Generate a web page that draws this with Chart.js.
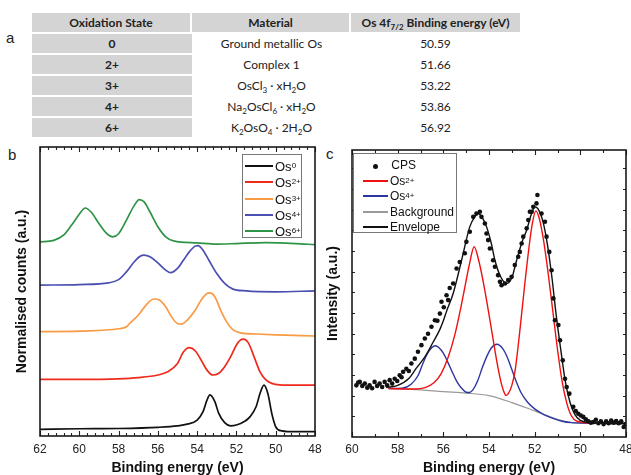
<!DOCTYPE html>
<html><head><meta charset="utf-8">
<script src="https://cdn.jsdelivr.net/npm/chart.js@4.4.1/dist/chart.umd.min.js"></script>
<style>
html,body{margin:0;padding:0;}
body{width:631px;height:475px;background:#fff;position:relative;overflow:hidden;font-family:"Liberation Sans",Arial,sans-serif;}
.lbl{position:absolute;font-size:15px;color:#222;line-height:15px;}
table{position:absolute;left:32px;top:13px;width:488px;border-collapse:separate;border-spacing:0;font-family:Lato,"Open Sans",sans-serif;font-size:12px;color:#222;table-layout:fixed;}
th,td{height:19px;padding:0;text-align:center;line-height:19px;border-bottom:2px solid #fff;}
th{background:#d4d4d4;font-weight:bold;border-right:2px solid #fff;}
th:last-child{border-right:none;}
td.c1{background:#d4d4d4;font-weight:bold;}
sub{font-size:8px;line-height:0;}
sup{font-size:8px;line-height:0;}
canvas{position:absolute;}
.leg{position:absolute;border:1px solid #777;background:#fff;box-sizing:border-box;}
.row{position:absolute;left:0;height:14px;display:flex;align-items:center;font-size:13px;color:#111;white-space:nowrap;}
.ln{display:inline-block;height:2px;margin-right:2px;}
.legc .row{font-size:12px;}
</style>
</head><body>
<div class="lbl" style="left:6px;top:30px;">a</div>
<table>
<colgroup><col style="width:160px"><col style="width:159px"><col style="width:169px"></colgroup>
<tr><th>Oxidation State</th><th>Material</th><th>Os 4f<sub>7/2</sub> Binding energy (eV)</th></tr>
<tr><td class="c1">0</td><td>Ground metallic Os</td><td>50.59</td></tr>
<tr><td class="c1">2+</td><td>Complex 1</td><td>51.66</td></tr>
<tr><td class="c1">3+</td><td>OsCl<sub>3</sub> · xH<sub>2</sub>O</td><td>53.22</td></tr>
<tr><td class="c1">4+</td><td>Na<sub>2</sub>OsCl<sub>6</sub> · xH<sub>2</sub>O</td><td>53.86</td></tr>
<tr><td class="c1">6+</td><td>K<sub>2</sub>OsO<sub>4</sub> · 2H<sub>2</sub>O</td><td>56.92</td></tr>
</table>
<div class="lbl" style="left:8px;top:147px;">b</div>
<div class="lbl" style="left:326px;top:146px;">c</div>
<canvas id="cb" width="325" height="335" style="left:0;top:140px;width:325px;height:335px;"></canvas>
<canvas id="cc" width="311" height="335" style="left:320px;top:140px;width:311px;height:335px;"></canvas>

<div class="leg" style="left:242px;top:154px;width:60px;height:84px;">
 <div class="row" style="top:4px;left:2px;"><span class="ln" style="width:28px;background:#111"></span>Os<sup>0</sup></div>
 <div class="row" style="top:20px;left:2px;"><span class="ln" style="width:28px;background:#ee2a1c"></span>Os<sup>2+</sup></div>
 <div class="row" style="top:37px;left:2px;"><span class="ln" style="width:28px;background:#f99b45"></span>Os<sup>3+</sup></div>
 <div class="row" style="top:53px;left:2px;"><span class="ln" style="width:28px;background:#4a4fb0"></span>Os<sup>4+</sup></div>
 <div class="row" style="top:69px;left:2px;"><span class="ln" style="width:28px;background:#2f9447"></span>Os<sup>6+</sup></div>
</div>
<div class="leg legc" style="left:353px;top:153px;width:104px;height:80px;">
 <div class="row" style="top:4px;left:9px;"><span style="display:inline-block;width:25px;text-align:center;"><span style="display:inline-block;width:5px;height:5px;border-radius:50%;background:#111;"></span></span>&nbsp;CPS</div>
 <div class="row" style="top:20px;left:9px;"><span class="ln" style="width:25px;height:1.5px;background:#f01010"></span>Os<sup>2+</sup></div>
 <div class="row" style="top:35px;left:9px;"><span class="ln" style="width:25px;height:1.5px;background:#2c36a0"></span>Os<sup>4+</sup></div>
 <div class="row" style="top:51px;left:9px;"><span class="ln" style="width:25px;height:1.5px;background:#999"></span>Background</div>
 <div class="row" style="top:66px;left:9px;"><span class="ln" style="width:25px;height:1.5px;background:#111"></span>Envelope</div>
</div>

<script>
// ---------- Panel b data (binding energy in eV, normalised counts with offsets) ----------
const os0E = [62,60,58,56,55,54.5,54,53.7,53.5,53.35,53.1,52.9,52.6,52.3,52.0,51.6,51.3,51.0,50.8,50.6,50.4,50.2,50.0,49.7,49,48];
const os0Y = [0.23,0.25,0.26,0.30,0.35,0.41,0.55,0.84,1.24,1.42,1.19,0.78,0.46,0.35,0.38,0.50,0.67,1.01,1.47,1.76,1.47,0.78,0.32,0.18,0.15,0.15];
const os2E = [62,60,58,57,56,55.5,55.0,54.7,54.4,54.1,53.8,53.5,53.2,52.9,52.6,52.3,52.0,51.8,51.65,51.4,51.1,50.8,50.5,50.2,49.8,49,48];
const os2Y = [1.96,1.96,1.98,2.02,2.11,2.22,2.51,2.91,3.06,2.95,2.63,2.28,2.11,2.17,2.40,2.74,3.15,3.32,3.35,3.23,2.74,2.22,1.94,1.82,1.77,1.76,1.76];
const os3E = [62,60,58,57.6,57.4,57.0,56.6,56.2,55.9,55.6,55.3,55.0,54.8,54.5,54.1,53.8,53.5,53.35,53.1,52.8,52.5,52.2,51.8,51,50,48];
const os3Y = [3.61,3.63,3.71,3.78,3.92,4.18,4.53,4.74,4.70,4.47,4.12,3.89,3.87,4.01,4.35,4.70,4.93,4.95,4.82,4.35,3.95,3.69,3.57,3.53,3.50,3.46];
const os4E = [62,60,58.5,58.0,57.6,57.2,56.9,56.7,56.4,56.0,55.6,55.35,55.0,54.7,54.4,54.1,53.95,53.7,53.4,53.0,52.6,52.2,51.5,50,48];
const os4Y = [5.22,5.24,5.30,5.41,5.68,6.03,6.22,6.26,6.20,5.99,5.74,5.65,5.80,6.08,6.37,6.57,6.59,6.43,6.08,5.62,5.28,5.09,5.02,4.99,5.02];
const os6E = [62,61.3,60.8,60.4,60.0,59.7,59.4,59.0,58.6,58.3,58.0,57.6,57.2,56.95,56.7,56.4,56.0,55.6,55.2,54,53,52,50.5,49,48];
const os6Y = [6.72,6.77,6.95,7.29,7.67,7.89,7.75,7.35,7.00,6.89,7.00,7.47,7.98,8.18,8.10,7.75,7.24,6.89,6.75,6.68,6.64,6.66,6.69,6.66,6.62];
const bTickLabels = [48,50,52,54,56,58,60,62];

// ---------- Panel c data ----------
const cpsE = [59.81,59.73,59.66,59.55,59.44,59.33,59.23,59.12,59.01,58.90,58.79,58.68,58.57,58.46,58.35,58.24,58.13,58.02,57.91,57.83,57.76,57.62,57.51,57.40,57.25,57.11,56.96,56.81,56.67,56.52,56.37,56.26,56.15,56.08,55.98,55.86,55.79,55.72,55.57,55.42,55.28,55.06,54.99,54.84,54.69,54.55,54.40,54.33,54.18,54.11,54.04,53.96,53.82,53.74,53.60,53.52,53.45,53.30,53.16,53.01,52.87,52.72,52.65,52.57,52.50,52.35,52.28,52.21,52.13,52.06,51.92,51.88,51.70,51.55,51.48,51.36,51.26,51.18,51.11,50.96,50.89,50.77,50.67,50.60,50.48,50.31,50.20,50.09,49.98,49.87,49.76,49.65,49.54,49.43,49.32,49.21,49.10,48.98,48.87,48.76,48.65,48.54,48.43,48.32,48.21,48.10,48.02];
const cpsY = [1.80,1.90,1.92,1.78,1.86,1.72,1.80,1.70,1.92,1.78,1.86,1.74,1.92,1.80,1.98,1.86,2.03,1.95,2.15,2.08,2.27,2.38,2.30,2.56,2.73,2.97,3.20,3.43,3.60,3.84,4.07,4.05,4.30,4.71,4.52,4.94,4.77,5.19,5.35,5.87,6.10,6.40,6.80,7.15,7.67,7.79,7.85,7.67,7.44,7.09,6.86,6.57,6.16,5.93,5.64,5.41,5.29,5.35,5.47,5.58,5.99,6.28,6.45,6.74,6.98,7.27,7.56,7.85,7.85,8.02,8.14,8.43,7.79,7.50,6.98,6.45,5.81,4.83,4.07,3.90,3.37,2.67,2.03,1.74,1.51,1.05,0.90,0.81,0.75,0.70,0.62,0.55,0.50,0.52,0.60,0.48,0.55,0.45,0.55,0.48,0.57,0.50,0.56,0.48,0.55,0.35,0.45];
const redE = [58.4,57.2,56.8,56.4,56.1,55.8,55.5,55.25,55.05,54.85,54.65,54.45,54.25,54.05,53.85,53.65,53.5,53.35,53.25,53.15,53.0,52.85,52.65,52.45,52.25,52.1,51.95,51.8,51.6,51.4,51.2,51.0,50.8,50.6,50.4,50.15,49.6,48];
const redY = [1.69,1.67,1.72,1.90,2.20,2.75,3.55,4.45,5.25,6.05,6.63,6.15,5.40,4.50,3.55,2.60,2.00,1.58,1.45,1.52,1.80,2.35,3.70,5.20,6.60,7.45,7.88,7.62,6.80,5.65,4.35,3.05,1.95,1.20,0.75,0.55,0.49,0.47];
const blueE = [58.4,57.8,57.4,57.1,56.9,56.7,56.5,56.35,56.2,56.0,55.8,55.6,55.4,55.2,55.0,54.85,54.7,54.5,54.3,54.1,53.9,53.65,53.4,53.2,53.0,52.8,52.6,52.3,52.0,51.6,51.2,50.8,50.4,49.5,48];
const blueY = [1.69,1.70,1.85,2.15,2.55,2.90,3.12,3.18,3.12,2.92,2.60,2.25,1.92,1.70,1.56,1.55,1.65,1.95,2.40,2.80,3.10,3.23,3.08,2.78,2.35,1.92,1.55,1.20,0.98,0.78,0.65,0.55,0.50,0.48,0.47];
const bgE = [58.4,57,56,55,54,53,52,51,50.5,50,49,48];
const bgY = [1.69,1.64,1.58,1.53,1.44,1.20,0.91,0.62,0.52,0.49,0.47,0.47];
const envE = [58.5,58.0,57.5,57.2,56.8,56.45,56.15,56.0,55.85,55.57,55.2,54.84,54.6,54.47,54.3,54.11,53.9,53.74,53.5,53.23,53.0,52.79,52.55,52.35,52.15,51.99,51.85,51.65,51.45,51.25,51.05,50.85,50.65,50.45,50.25,50.0,49.5,49.0,48.0];
const envY = [1.72,1.80,2.05,2.38,2.80,3.30,3.75,4.05,4.40,5.00,6.16,7.33,7.70,7.79,7.65,7.33,6.75,6.16,5.60,5.35,5.55,6.16,6.80,7.21,7.75,8.02,7.95,7.55,6.75,5.60,4.20,3.00,1.90,1.20,0.80,0.58,0.50,0.48,0.47];
const cTickLabels = [48,50,52,54,56,58,60];

const pts = (xs, ys) => xs.map((x, i) => ({x: x, y: ys[i]}));

Chart.defaults.font.family = '"Liberation Sans", Arial, sans-serif';

const framePlugin = {
  id: 'frame',
  afterDatasetsDraw(chart) {
    const o = chart.options.plugins.frame;
    const {ctx, chartArea: a, scales} = chart;
    const xs = scales.x, ys = scales.y;
    ctx.save();
    ctx.strokeStyle = '#222';
    ctx.lineWidth = 1.1;
    ctx.beginPath();
    const n = Math.round((xs.max - xs.min) / o.xMinor);
    for (let i = 0; i <= n; i++) {
      const v = xs.min + i * o.xMinor;
      const r = v / o.xMajor;
      const major = Math.abs(r - Math.round(r)) < 1e-6;
      const len = major ? o.majorLen : o.minorLen;
      const px = Math.round(xs.getPixelForValue(v)) + 0.5;
      ctx.moveTo(px, a.bottom); ctx.lineTo(px, a.bottom - len);
      ctx.moveTo(px, a.top); ctx.lineTo(px, a.top + len);
    }
    if (o.yStep) {
      for (let v = ys.min + o.yStep; v < ys.max; v += o.yStep) {
        const py = Math.round(ys.getPixelForValue(v)) + 0.5;
        ctx.moveTo(a.left, py); ctx.lineTo(a.left + o.minorLen, py);
        ctx.moveTo(a.right, py); ctx.lineTo(a.right - o.minorLen, py);
      }
    }
    ctx.stroke();
    ctx.lineWidth = 1.6;
    ctx.strokeStyle = '#1a1a1a';
    ctx.strokeRect(a.left, a.top, a.width, a.height);
    ctx.restore();
  }
};

function xScale(min, max, labels, pad, h) {
  return {
    type: 'linear', reverse: true, min: min, max: max,
    grid: {display: false, drawTicks: false}, border: {display: false},
    afterBuildTicks(s) { s.ticks = labels.map(v => ({value: v})); },
    ticks: {padding: pad, font: {size: 12}, color: '#222', maxRotation: 0, autoSkip: false},
    title: {display: true, text: 'Binding energy (eV)', color: '#111',
            font: {size: 14, weight: 'bold', lineHeight: 1}, padding: {top: 0, bottom: 0}},
    afterFit(s) { s.height = h; s.paddingLeft = 0; s.paddingRight = 0; }
  };
}
function yScale(title, w, tpad) {
  return {
    min: 0, max: 10,
    grid: {display: false, drawTicks: false}, border: {display: false},
    ticks: {display: false},
    title: {display: true, text: title, color: '#111',
            font: {size: 14, weight: 'bold', lineHeight: 1}, padding: {top: tpad, bottom: 0}},
    afterFit(s) { s.width = w; s.paddingTop = 0; s.paddingBottom = 0; }
  };
}
function line(label, xs, ys, color, width) {
  return {type: 'line', label: label, data: pts(xs, ys), borderColor: color, backgroundColor: color,
          borderWidth: width, pointRadius: 0, fill: false, cubicInterpolationMode: 'monotone'};
}

new Chart(document.getElementById('cb'), {
  type: 'line',
  data: {datasets: [
    line('Os0', os0E, os0Y, '#111111', 1.7),
    line('Os2+', os2E, os2Y, '#ee2a1c', 1.7),
    line('Os3+', os3E, os3Y, '#f99b45', 1.7),
    line('Os4+', os4E, os4Y, '#4a4fb0', 1.7),
    line('Os6+', os6E, os6Y, '#2f9447', 1.7)
  ]},
  options: {
    responsive: false, animation: false, devicePixelRatio: 1,
    parsing: false,
    layout: {padding: {top: 7, right: 10, left: 0, bottom: 0}},
    plugins: {legend: {display: false}, tooltip: {enabled: false},
              frame: {xMinor: 0.4, xMajor: 2, majorLen: 5, minorLen: 3}},
    scales: {x: xScale(48, 62, bTickLabels, 6, 39), y: yScale('Normalised counts (a.u.)', 40, 15)}
  },
  plugins: [framePlugin]
});

new Chart(document.getElementById('cc'), {
  type: 'line',
  data: {datasets: [
    {type: 'scatter', label: 'CPS', data: pts(cpsE, cpsY), showLine: false, pointRadius: 2.3,
     pointBackgroundColor: '#111', pointBorderColor: '#111', pointBorderWidth: 0, order: 0},
    Object.assign(line('Envelope', envE, envY, '#111111', 1.4), {order: 1}),
    Object.assign(line('Os2+', redE, redY, '#f01010', 1.4), {order: 2}),
    Object.assign(line('Os4+', blueE, blueY, '#2c36a0', 1.4), {order: 3}),
    Object.assign(line('Background', bgE, bgY, '#999999', 1.2), {order: 4})
  ]},
  options: {
    responsive: false, animation: false, devicePixelRatio: 1,
    parsing: false,
    layout: {padding: {top: 10, right: 5, left: 0, bottom: 0}},
    plugins: {legend: {display: false}, tooltip: {enabled: false},
              frame: {xMinor: 1, xMajor: 2, majorLen: 5, minorLen: 3, yStep: 0.72}},
    scales: {x: xScale(48, 60, cTickLabels, 5, 38), y: yScale('Intensity (a.u.)', 32, 6)}
  },
  plugins: [framePlugin]
});
</script>
</body></html>
